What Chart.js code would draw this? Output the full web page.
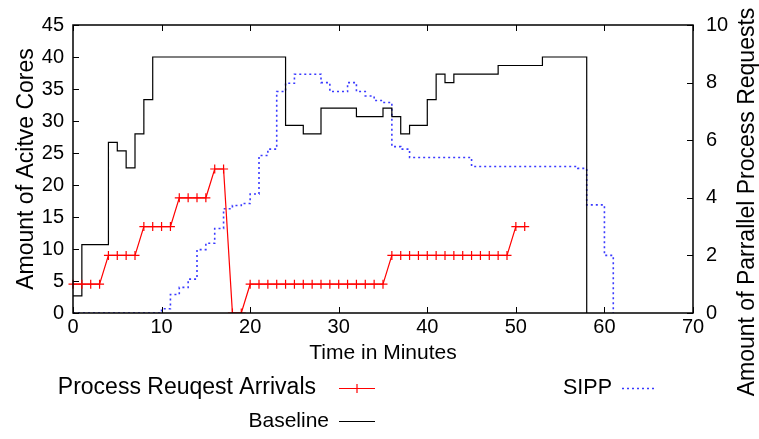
<!DOCTYPE html>
<html>
<head>
<meta charset="UTF-8" />
<script src="https://cdn.jsdelivr.net/npm/chart.js@4/dist/chart.umd.min.js"></script>
<style>
  html, body { margin: 0; padding: 0; background: #fff; }
  #wrap { width: 759px; height: 439px; }
</style>
</head>
<body>
<div id="wrap"><canvas id="chart" width="759" height="439"></canvas></div>
<script>
// Process request arrivals (right axis, parallel requests), one point per minute.
const arrivalMinutes = [0, 1, 2, 3, 4, 5, 6, 7, 8, 9, 10, 11, 12, 13, 14, 15, 16, 17, 18, 19,
  20, 21, 22, 23, 24, 25, 26, 27, 28, 29, 30, 31, 32, 33, 34, 35, 36, 37, 38, 39,
  40, 41, 42, 43, 44, 45, 46, 47, 48, 49, 50, 51];
const arrivalCounts = [1, 1, 1, 1, 2, 2, 2, 2, 3, 3, 3, 3, 4, 4, 4, 4, 5, 5, 0, 0,
  1, 1, 1, 1, 1, 1, 1, 1, 1, 1, 1, 1, 1, 1, 1, 1, 2, 2, 2, 2,
  2, 2, 2, 2, 2, 2, 2, 2, 2, 2, 3, 3];

// Baseline active cores (left axis), value holds until the next change.
const baselineMinutes = [0, 1, 4, 5, 6, 7, 8, 9, 24, 26, 28, 32, 35, 36, 37, 38, 40, 41, 42, 43, 48, 53, 58];
const baselineCores = [2.67, 10.67, 26.67, 25.33, 22.67, 28, 33.33, 40, 29.33, 28, 32, 30.67, 32, 30.67,
  28, 29.33, 33.33, 37.33, 36, 37.33, 38.67, 40, 0];

// SIPP active cores (left axis).
const sippMinutes = [0, 10, 11, 12, 13, 14, 15, 16, 17, 18, 19, 20, 21, 22, 23, 24, 25, 28, 29, 31,
  32, 33, 34, 35, 36, 37, 38, 45, 57, 58, 60, 61];
const sippCores = [0, 0.67, 2.9, 4, 5.3, 9.9, 10.9, 13.2, 16.3, 16.8, 17.1, 18.6, 24.6, 25.6, 34.6, 35.9,
  37.3, 36, 34.6, 36, 34.6, 33.9, 33.2, 32.9, 26, 25.6, 24.3, 22.9, 22.6, 16.9, 9, 0];

const xTicks = [0, 10, 20, 30, 40, 50, 60, 70];
const coreTicks = [0, 5, 10, 15, 20, 25, 30, 35, 40, 45];
const requestTicks = [0, 2, 4, 6, 8, 10];

const FONT = 'Liberation Sans, Arial, sans-serif';

function points(xs, ys) {
  return xs.map((x, i) => ({ x, y: ys[i] }));
}

// gnuplot style frame with inward ticks, drawn from the chart's own scales
const framePlugin = {
  id: 'frame',
  afterDraw(c) {
    const { ctx, chartArea: a, scales } = c;
    ctx.save();
    ctx.strokeStyle = '#000';
    ctx.lineWidth = 1;
    ctx.beginPath();
    xTicks.forEach((v) => {
      const px = Math.round(scales.x.getPixelForValue(v)) + 0.5;
      ctx.moveTo(px, a.bottom); ctx.lineTo(px, a.bottom - 6);
      ctx.moveTo(px, a.top); ctx.lineTo(px, a.top + 6);
    });
    coreTicks.forEach((v) => {
      const py = Math.round(scales.y.getPixelForValue(v)) + 0.5;
      ctx.moveTo(a.left, py); ctx.lineTo(a.left + 6, py);
    });
    requestTicks.forEach((v) => {
      const py = Math.round(scales.y2.getPixelForValue(v)) + 0.5;
      ctx.moveTo(a.right, py); ctx.lineTo(a.right - 6, py);
    });
    ctx.stroke();
    ctx.lineWidth = 1.5;
    ctx.strokeRect(a.left, a.top, a.right - a.left, a.bottom - a.top);

    // right axis title reads bottom to top
    ctx.fillStyle = '#000';
    ctx.font = '23px ' + FONT;
    ctx.textAlign = 'center';
    ctx.textBaseline = 'middle';
    ctx.translate(748, 202);
    ctx.rotate(-Math.PI / 2);
    ctx.fillText('Amount of Parrallel Process Requests', 0, 0);
    ctx.restore();
  },
};

// legend laid out like the gnuplot key below the plot
const keyPlugin = {
  id: 'key',
  afterDraw(c) {
    const { ctx } = c;
    const ds = c.data.datasets;
    const entries = [
      { d: ds[0], size: 23, textRight: 316, x0: 339, x1: 375, y: 388 },
      { d: ds[2], size: 21.5, textRight: 612, x0: 622, x1: 657, y: 388 },
      { d: ds[1], size: 21, textRight: 329, x0: 339, x1: 375, y: 421 },
    ];
    ctx.save();
    ctx.textAlign = 'right';
    ctx.textBaseline = 'middle';
    entries.forEach((e) => {
      ctx.font = e.size + 'px ' + FONT;
      ctx.fillStyle = '#000';
      ctx.fillText(e.d.label, e.textRight, e.y);
      ctx.strokeStyle = e.d.borderColor;
      ctx.lineWidth = e.d.borderWidth;
      ctx.setLineDash(e.d.borderDash || []);
      ctx.beginPath();
      ctx.moveTo(e.x0, e.y + 0.5); ctx.lineTo(e.x1, e.y + 0.5);
      ctx.stroke();
      ctx.setLineDash([]);
      if (e.d.pointRadius) {
        const mx = (e.x0 + e.x1) / 2;
        ctx.beginPath();
        ctx.moveTo(mx - 4.5, e.y + 0.5); ctx.lineTo(mx + 4.5, e.y + 0.5);
        ctx.moveTo(mx, e.y - 4); ctx.lineTo(mx, e.y + 5);
        ctx.stroke();
      }
    });
    ctx.restore();
  },
};

new Chart(document.getElementById('chart'), {
  type: 'line',
  data: {
    datasets: [
      {
        label: 'Process Reuqest Arrivals',
        data: points(arrivalMinutes, arrivalCounts),
        yAxisID: 'y2',
        borderColor: '#ff0000',
        backgroundColor: '#ff0000',
        borderWidth: 1.2,
        pointStyle: 'cross',
        pointRadius: 4.5,
        pointBorderWidth: 1.2,
        pointBorderColor: '#ff0000',
        clip: { left: 6, top: 0, right: 0, bottom: 0 },
        order: 1,
      },
      {
        label: 'Baseline',
        data: points(baselineMinutes, baselineCores),
        yAxisID: 'y',
        borderColor: '#000000',
        borderWidth: 1.2,
        stepped: true,
        pointRadius: 0,
        order: 2,
      },
      {
        label: 'SIPP',
        data: points(sippMinutes, sippCores),
        yAxisID: 'y',
        borderColor: '#3a3aff',
        borderWidth: 1.6,
        borderDash: [2, 3],
        stepped: true,
        pointRadius: 0,
        order: 3,
      },
    ],
  },
  options: {
    responsive: false,
    animation: false,
    devicePixelRatio: 1,
    layout: { padding: { left: 0, right: 0, top: 16, bottom: 75 } },
    plugins: { legend: { display: false }, tooltip: { enabled: false } },
    scales: {
      x: {
        type: 'linear',
        min: 0,
        max: 70,
        grid: { display: false, drawTicks: false },
        border: { display: false },
        afterBuildTicks: (s) => { s.ticks = xTicks.map((v) => ({ value: v })); },
        afterFit: (s) => { s.height = 51; },
        ticks: { autoSkip: false, maxRotation: 0, padding: 2, color: '#000', font: { family: FONT, size: 20 } },
        title: {
          display: true,
          text: 'Time in Minutes',
          color: '#000',
          padding: 0,
          font: { family: FONT, size: 21, lineHeight: 1 },
        },
      },
      y: {
        position: 'left',
        min: 0,
        max: 45,
        grid: { display: false, drawTicks: false },
        border: { display: false },
        afterBuildTicks: (s) => { s.ticks = coreTicks.map((v) => ({ value: v })); },
        afterFit: (s) => { s.width = 73; },
        ticks: { padding: 9, color: '#000', font: { family: FONT, size: 20 } },
        title: {
          display: true,
          text: 'Amount of Acitve Cores',
          color: '#000',
          padding: { top: 15, bottom: 0 },
          font: { family: FONT, size: 23, lineHeight: 1 },
        },
      },
      y2: {
        position: 'right',
        min: 0,
        max: 10,
        grid: { display: false, drawTicks: false },
        border: { display: false },
        afterBuildTicks: (s) => { s.ticks = requestTicks.map((v) => ({ value: v })); },
        afterFit: (s) => { s.width = 66; },
        ticks: { padding: 13, color: '#000', font: { family: FONT, size: 20 } },
      },
    },
  },
  plugins: [framePlugin, keyPlugin],
});
</script>
</body>
</html>
